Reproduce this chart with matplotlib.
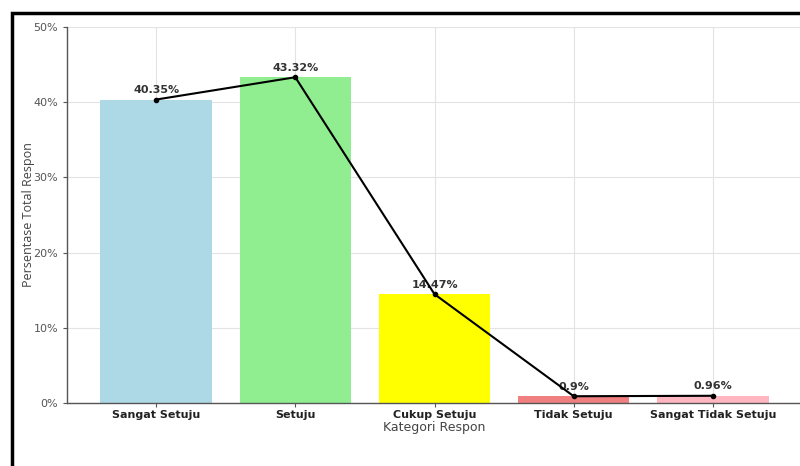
import numpy as np
import matplotlib
matplotlib.use("Agg")
import matplotlib.pyplot as plt
from matplotlib.lines import Line2D
from matplotlib.ticker import FuncFormatter

# Data
categories = ['Sangat Setuju', 'Setuju', 'Cukup Setuju', 'Tidak Setuju', 'Sangat Tidak Setuju']
percentages = [40.35, 43.32, 14.47, 0.9, 0.96]
labels = ['40.35%', '43.32%', '14.47%', '0.9%', '0.96%']
bar_colors = ['lightblue', 'lightgreen', 'yellow', 'lightcoral', 'lightpink']

W, H = 800, 466
fig = plt.figure(figsize=(W / 100, H / 100), dpi=100)

# axes reaches slightly past the right edge, as in the cropped screenshot
left, right, bottom, top = 67, 802, 403, 27
ax = fig.add_axes([left / W, (H - bottom) / H, (right - left) / W, (bottom - top) / H])

x = np.arange(len(categories))
ax.bar(x, percentages, width=0.8, color=bar_colors, zorder=2)
ax.plot(x, percentages, color='black', marker='o', markersize=3, linewidth=1.5, zorder=3)

for xi, yi, lab in zip(x, percentages, labels):
    ax.text(xi, yi + 0.6, lab, ha='center', va='bottom', fontsize=8,
            fontweight='bold', color='#333333', zorder=2.5)

ax.set_xlim(-0.64, len(categories) - 1 + 0.64)
ax.set_ylim(0, 50)
ax.set_yticks(np.arange(0, 51, 10))
ax.yaxis.set_major_formatter(FuncFormatter(lambda v, p: f'{int(v)}%'))
ax.set_xticks(x)
ax.set_xticklabels(categories, fontweight='bold', fontsize=8, color='#222222')
ax.tick_params(axis='y', labelsize=8, colors='#555555', length=3)
ax.tick_params(axis='x', length=3, pad=2, colors='#555555', labelcolor='#222222')

ax.set_xlabel('Kategori Respon', fontsize=9, color='#444444', labelpad=1)
ax.set_ylabel('Persentase Total Respon', fontsize=9, color='#444444', family='Open Sans')
ax.yaxis.set_label_coords(-0.0435, 0.5)

ax.grid(True, color='#e3e3e3', linewidth=0.8, zorder=0)
ax.set_axisbelow(True)
for s in ['top', 'right']:
    ax.spines[s].set_visible(False)
for s in ['left', 'bottom']:
    ax.spines[s].set_color('#555555')
    ax.spines[s].set_linewidth(1.0)

# black screenshot frame (top and left edges visible)
fig.add_artist(Line2D([12 / W, 12 / W, 1.0], [0.0, 1 - 13 / H, 1 - 13 / H],
                      transform=fig.transFigure, color='black', linewidth=2.5,
                      solid_joinstyle='miter'))

fig.savefig('out.png', dpi=100)
